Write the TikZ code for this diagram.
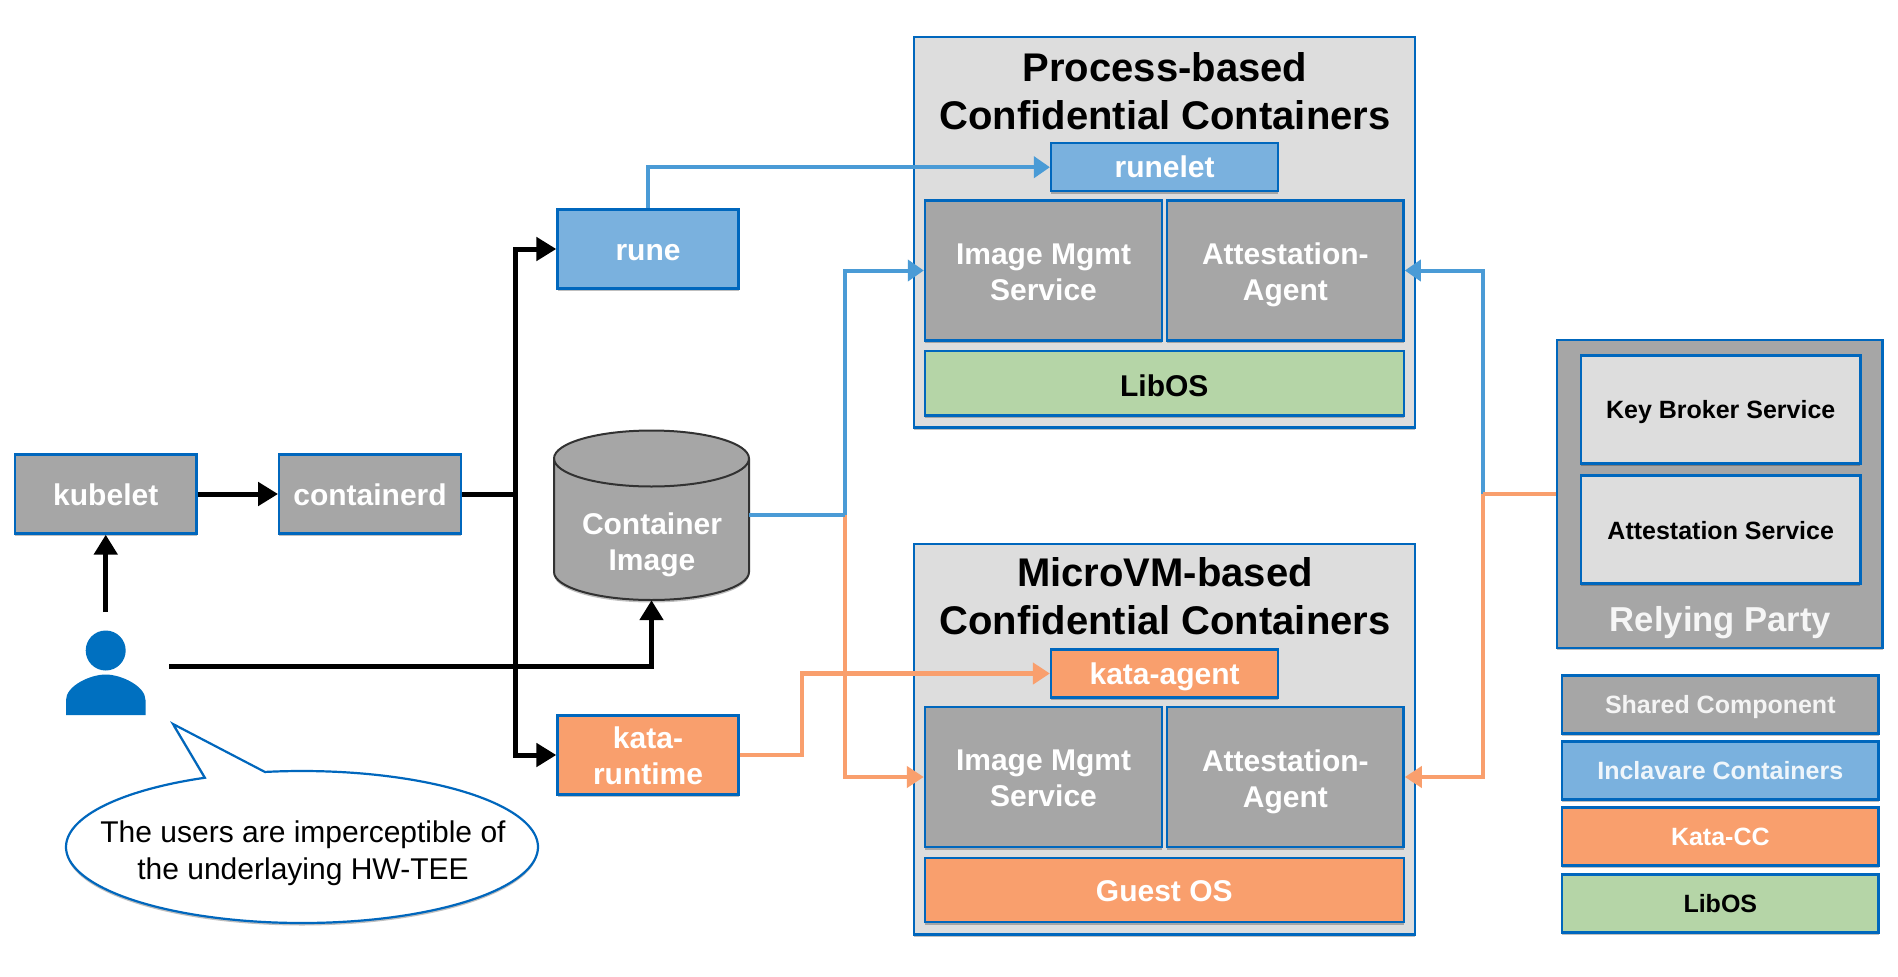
\documentclass[tikz,border=0pt]{standalone}
\usepackage{fontspec}
\setmainfont{Liberation Sans}
\usetikzlibrary{arrows.meta,shadows}
\definecolor{edgeblue}{HTML}{0067BD}
\definecolor{person}{HTML}{0070C0}
\definecolor{gbox}{HTML}{A6A6A6}
\definecolor{lbox}{HTML}{DDDDDD}
\definecolor{bbox}{HTML}{7AB1DE}
\definecolor{obox}{HTML}{F99F6D}
\definecolor{grbox}{HTML}{B5D5A7}
\definecolor{lineblue}{HTML}{4A9BD6}
\definecolor{lineorange}{HTML}{F99F6D}
\newcommand{\nudge}[2]{\raisebox{-#1pt}[\height][\depth]{\begin{tabular}{@{}c@{}}#2\end{tabular}}}
\tikzset{
  softshadow/.style={drop shadow={shadow xshift=0pt,shadow yshift=-2.5pt,opacity=.25,fill=black}},
  cbox/.style={draw=edgeblue,line width=2.4pt,inner sep=0pt,align=center,softshadow,font=\fontsize{30}{36}\selectfont\bfseries,text=white},
  graybox/.style={cbox,fill=gbox},
  bluebox/.style={cbox,fill=bbox},
  orangebox/.style={cbox,fill=obox},
  greenbox/.style={cbox,fill=grbox,text=black},
  lightbox/.style={cbox,fill=lbox,text=black},
  titletext/.style={inner sep=0pt,align=center,font=\fontsize{40}{48}\selectfont\bfseries},
  svctext/.style={font=\fontsize{25}{30}\selectfont\bfseries},
  legtext/.style={font=\fontsize{25}{30}\selectfont\bfseries},
  blackline/.style={draw=black,line width=5pt},
  blackarrow/.style={blackline,-{Triangle[length=20pt,width=23pt]}},
  blueline/.style={draw=lineblue,line width=4pt},
  bluearrow/.style={blueline,-{Triangle[length=16pt,width=21pt]}},
  orangeline/.style={draw=lineorange,line width=4.5pt},
  orangearrow/.style={orangeline,-{Triangle[length=17pt,width=21pt]}},
}
\begin{document}
\begin{tikzpicture}[x=1pt,y=-1pt]
\useasboundingbox (0,0) rectangle (1898,977);
\fill[white] (0,0) rectangle (1898,977);
% process-based group
\node[lightbox,minimum width=501pt,minimum height=390.5pt] (proc) at (1164.6,232.4) {};
\node[titletext] (proctitle) at (1165,91) {Process-based\\Confidential Containers};
\node[bluebox,minimum width=227pt,minimum height=48pt] (runelet) at (1164.6,167.2) {\nudge{3.5}{runelet}};
\node[graybox,minimum width=237pt,minimum height=140pt] (ims) at (1043.5,270.5) {\nudge{4.5}{Image Mgmt\\Service}};
\node[graybox,minimum width=236.5pt,minimum height=140pt] (att) at (1285.4,270.5) {\nudge{5}{Attestation-\\Agent}};
\node[greenbox,minimum width=479pt,minimum height=64.5pt] (libos) at (1164.3,383.4) {\nudge{5.5}{LibOS}};
% microvm-based group
\node[lightbox,minimum width=501pt,minimum height=390.5pt] (micro) at (1164.6,739.4) {};
\node[titletext] (microtitle) at (1165,596.5) {MicroVM-based\\Confidential Containers};
\node[orangebox,minimum width=227pt,minimum height=48pt] (kagent) at (1164.6,673.5) {\nudge{4}{kata-agent}};
\node[graybox,minimum width=237pt,minimum height=140pt] (ims2) at (1043.5,777) {\nudge{4.5}{Image Mgmt\\Service}};
\node[graybox,minimum width=236.5pt,minimum height=140pt] (att2) at (1285.4,777) {\nudge{5}{Attestation-\\Agent}};
\node[orangebox,minimum width=479pt,minimum height=64.5pt] (guest) at (1164.3,890) {\nudge{4}{Guest OS}};
% left nodes
\node[graybox,minimum width=181.5pt,minimum height=79pt] (kubelet) at (105.75,494) {\nudge{4}{kubelet}};
\node[graybox,minimum width=181.5pt,minimum height=79pt] (containerd) at (370,494) {\nudge{4.5}{containerd}};
\node[bluebox,minimum width=181pt,minimum height=79pt] (rune) at (648,249) {\nudge{4.5}{rune}};
\node[orangebox,minimum width=181pt,minimum height=79pt] (kata) at (648,755) {\nudge{4.5}{kata-\\runtime}};
% cylinder
\path[fill=gbox,draw=black!70!gbox,line width=2pt,softshadow] (554,458.5) -- (554,572)
  arc[start angle=180,end angle=360,x radius=97.5pt,y radius=28pt] -- (749,458.5)
  arc[start angle=0,end angle=180,x radius=97.5pt,y radius=28pt] -- cycle;
\draw[black!70!gbox,line width=2pt] (554,458.5) arc[start angle=180,end angle=360,x radius=97.5pt,y radius=28pt];
\node[minimum width=195pt,minimum height=170pt,inner sep=0pt] (image) at (651.5,515) {};
\node[inner sep=0pt,align=center,text=white,font=\fontsize{30}{36}\selectfont\bfseries] (imagetext) at (652,545) {Container\\Image};
% person
\fill[person] (105.7,650.5) ellipse[x radius=20pt,y radius=20pt];
\fill[person] (66,715) -- (66,700) .. controls (66,686) and (90,674.5) .. (105.7,674.5)
  .. controls (121,674.5) and (145.5,686) .. (145.5,700) -- (145.5,715) -- cycle;
% callout
\path[fill=white,draw=edgeblue,line width=2.2pt,line join=miter,softshadow]
  (173,724) -- (265,772)
  -- plot[domain=99:-245.7,samples=160,smooth] ({302+236*cos(\x)},{847-76*sin(\x)})
  -- cycle;
\node[inner sep=0pt,align=center,font=\fontsize{30}{36.5}\selectfont] (note) at (303,853) {The users are imperceptible of\\the underlaying HW-TEE};
% relying party
\node[graybox,minimum width=325.5pt,minimum height=307.5pt] (rp) at (1719.9,494) {};
\node[lightbox,svctext,minimum width=279.5pt,minimum height=108pt] (kbs) at (1720.7,409.4) {\nudge{3.5}{Key Broker Service}};
\node[lightbox,svctext,minimum width=279.5pt,minimum height=108pt] (as) at (1720.7,529.5) {\nudge{3.5}{Attestation Service}};
\node[inner sep=0pt,text=white!90!gbox,font=\fontsize{34.6}{40}\selectfont\bfseries] (rptitle) at (1720.5,622.5) {Relying Party};
% legend
\node[graybox,legtext,minimum width=316.5pt,minimum height=58pt,text=white!88!gbox] (leg1) at (1720.3,704.5) {\nudge{3}{Shared Component}};
\node[bluebox,legtext,minimum width=316.5pt,minimum height=58pt,text=white!88!bbox] (leg2) at (1720.3,770.5) {Inclavare Containers};
\node[orangebox,legtext,minimum width=316.5pt,minimum height=58pt] (leg3) at (1720.3,836.5) {Kata-CC};
\node[greenbox,legtext,minimum width=316.5pt,minimum height=58pt] (leg4) at (1720.3,903.5) {LibOS};
% junction coordinates
\coordinate (bus) at (515,494);
\coordinate (userr) at (169,666);
\coordinate (usert) at (105.75,612);
\coordinate (jl) at (845,515);
\coordinate (jr) at (1483,494);
\coordinate (kr) at (802,714);
% connectors
\draw[blackarrow] (kubelet.east) -- (containerd.west);
\draw[blackarrow] (usert) -- (kubelet.south);
\draw[blackarrow] (userr) -| (image.south);
\draw[blackline] (containerd.east) -- (bus);
\draw[blackarrow] (bus) |- (rune.west);
\draw[blackarrow] (bus) |- (kata.west);
\draw[bluearrow] (rune.north) |- (runelet.west);
\draw[orangearrow] (jl) |- (ims2.west);
\draw[blueline] (image.east) -- (jl);
\draw[bluearrow] (jl) |- (ims.west);
\draw[bluearrow] (jr) |- (att.east);
\draw[orangeline] (rp.west) -- (jr);
\draw[orangearrow] (jr) |- (att2.east);
\draw[orangeline] (kata.east) -| (kr);
\draw[orangearrow] (kr) |- (kagent.west);
\end{tikzpicture}
\end{document}
